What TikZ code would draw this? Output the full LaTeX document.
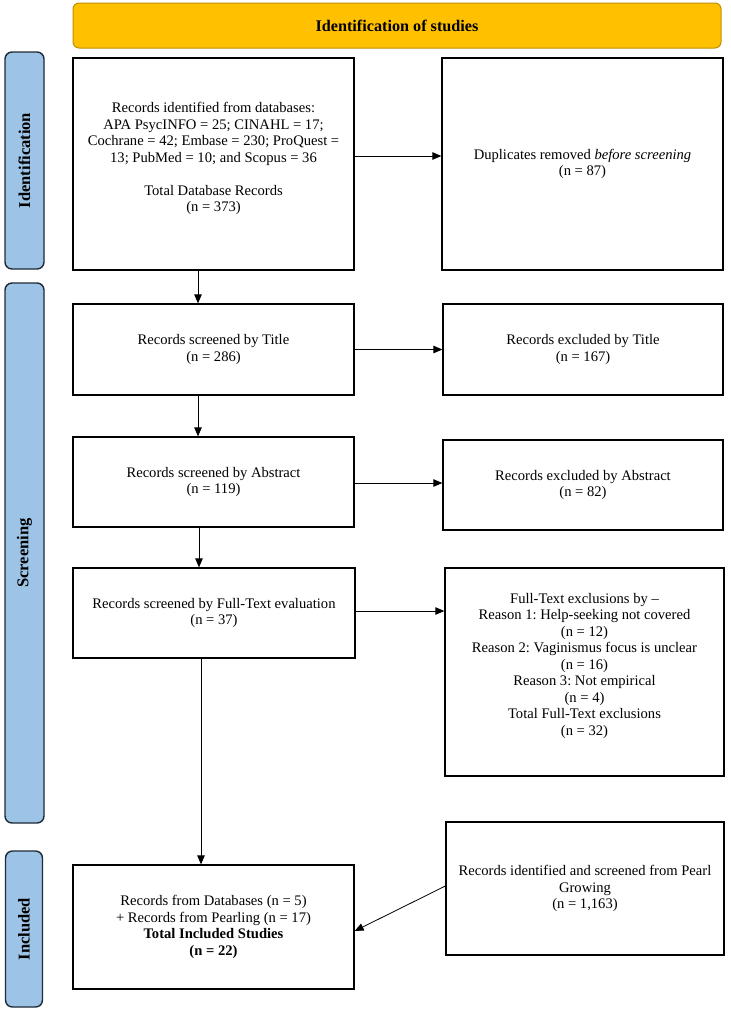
\documentclass[tikz,border=0pt]{standalone}
\usepackage{fontspec}
\setmainfont{Liberation Serif}
\frenchspacing
\usetikzlibrary{arrows.meta}
\definecolor{bannerfill}{HTML}{FFC000}
\definecolor{bannerdraw}{HTML}{BF9000}
\definecolor{sidefill}{HTML}{9DC3E6}
\definecolor{sidedraw}{HTML}{1E2A36}
\begin{document}
\begin{tikzpicture}[x=1pt,y=-1pt,
  txt/.style={font=\fontsize{14.6}{16.5}\selectfont, align=center},
  box/.style={txt, draw=black, line width=1.3pt, fill=white, inner sep=2pt},
  banner/.style={draw=bannerdraw, fill=bannerfill, line width=1pt, rounded corners=6pt,
    font=\fontsize{16.2}{18}\selectfont\bfseries},
  side/.style={draw=sidedraw, fill=sidefill, line width=1.4pt, rounded corners=7pt},
  sidetxt/.style={font=\fontsize{16.5}{18}\selectfont\bfseries, rotate=90},
  arr/.style={line width=0.8pt, -{Triangle[length=9pt,width=7.5pt]}}]
\useasboundingbox (0,0) rectangle (731,1010);

\node[banner, minimum width=648pt, minimum height=45pt] (ban) at (397,25.5) {Identification of studies};

\node[side, minimum width=39pt, minimum height=217pt] (s1) at (24.5,160.5) {};
\node[sidetxt] (s1t) at (s1.center) {Identification};
\node[side, minimum width=39pt, minimum height=540pt] (s2) at (24.5,553) {};
\node[sidetxt] (s2t) at (s2.center) {Screening};
\node[side, minimum width=37pt, minimum height=156pt] (s3) at (24,929) {};
\node[sidetxt] (s3t) at (s3.center) {Included};

\node[box, minimum width=281pt, minimum height=212pt] (b1) at (213.5,164)
  {Records identified from databases:\\ APA PsycINFO = 25; CINAHL = 17;\\ Cochrane = 42; Embase = 230; ProQuest =\\ 13; PubMed = 10; and Scopus = 36\\ \strut\\ Total Database Records\\ (n = 373)\\[-8pt] \strut};
\node[box, minimum width=281pt, minimum height=212pt] (b2) at (582.5,164)
  {Duplicates removed \textit{before screening}\\ (n = 87)};
\node[box, minimum width=281pt, minimum height=91pt] (b3) at (213.5,349.5)
  {Records screened by Title\\ (n = 286)};
\node[box, minimum width=280pt, minimum height=91pt] (b4) at (583,349.5)
  {Records excluded by Title\\ (n = 167)};
\node[box, minimum width=281pt, minimum height=90pt] (b5) at (213.5,482)
  {Records screened by Abstract\\ (n = 119)};
\node[box, minimum width=280pt, minimum height=90pt] (b6) at (583,485)
  {Records excluded by Abstract\\ (n = 82)};
\node[box, minimum width=282pt, minimum height=90pt] (b7) at (214,613)
  {Records screened by Full-Text evaluation\\ (n = 37)};
\node[box, minimum width=279pt, minimum height=208pt] (b8) at (584.5,672)
  {Full-Text exclusions by --\\ Reason 1: Help-seeking not covered\\ (n = 12)\\ Reason 2: Vaginismus focus is unclear\\ (n = 16)\\ Reason 3: Not empirical\\ (n = 4)\\ Total Full-Text exclusions\\ (n = 32)\\[-6pt] \strut};
\node[box, minimum width=281pt, minimum height=124pt] (b9) at (213.5,927)
  {Records from Databases (n = 5)\\ + Records from Pearling (n = 17)\\ \textbf{Total Included Studies}\\ \textbf{(n = 22)}};
\node[box, minimum width=278pt, minimum height=133pt] (b10) at (585,888.5)
  {Records identified and screened from Pearl\\ Growing\\ (n = 1,163)};

\draw[arr] ([yshift=8pt]b1.east) -- ([yshift=8pt]b1.east -| b2.west);
\draw[arr] ([xshift=-15.5pt]b1.south) -- ([xshift=-15.5pt]b1.south |- b3.north);
\draw[arr] (b3.east) -- (b3.east -| b4.west);
\draw[arr] ([xshift=-15.5pt]b3.south) -- ([xshift=-15.5pt]b3.south |- b5.north);
\draw[arr] ([yshift=-1pt]b5.east) -- ([yshift=-1pt]b5.east -| b6.west);
\draw[arr] ([xshift=-14.5pt]b5.south) -- ([xshift=-14.5pt]b5.south |- b7.north);
\draw[arr] ([yshift=2pt]b7.east) -- ([yshift=2pt]b7.east -| b8.west);
\draw[arr] ([xshift=-13pt]b7.south) -- ([xshift=-13pt]b7.south |- b9.north);
\draw[arr] ([yshift=2.5pt]b10.west) -- ([yshift=-4pt]b9.east);
\end{tikzpicture}
\end{document}
